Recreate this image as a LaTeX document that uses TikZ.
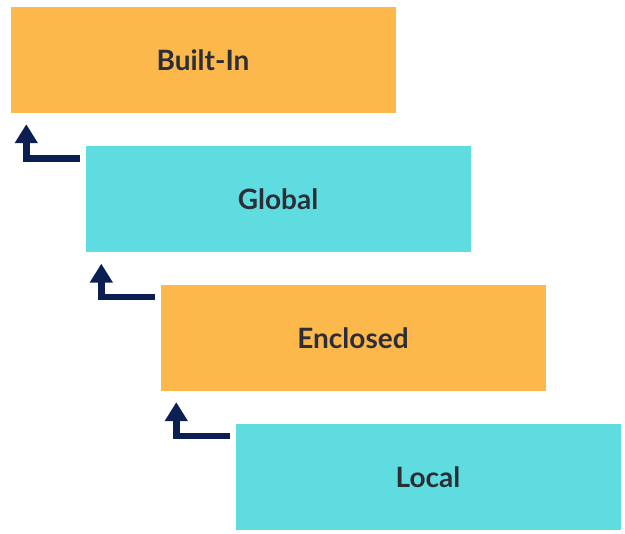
\documentclass[tikz,border=0pt]{standalone}
\usepackage{fontspec}
\setmainfont{Lato}
\usetikzlibrary{arrows.meta}
\definecolor{scopeorange}{HTML}{FDB84C}
\definecolor{scopecyan}{HTML}{5FDCE0}
\definecolor{scopenavy}{HTML}{0B1F52}
\definecolor{scopetext}{HTML}{2B2E36}
\tikzset{
  scopebox/.style={minimum width=385pt, minimum height=106pt, inner sep=0pt,
    font=\fontsize{28}{32}\selectfont\bfseries, text=scopetext},
  lookup/.style={draw=scopenavy, line width=6.5pt, -{Triangle[width=22pt,length=19pt]}}
}
\begin{document}
\begin{tikzpicture}[x=1pt,y=-1pt]
\useasboundingbox (0,0) rectangle (625,534);
\node[scopebox, fill=scopeorange] (built) at (203,60) {Built-In};
\node[scopebox, fill=scopecyan] (glob) at (278,199.5) {Global};
\node[scopebox, fill=scopeorange] (encl) at (353,338) {Enclosed};
\node[scopebox, fill=scopecyan] (loc) at (428,477) {Local};
\draw[lookup] ([xshift=-5pt,yshift=-12pt]glob.north west) -| ([xshift=16pt,yshift=-11pt]built.south west);
\draw[lookup] ([xshift=-5pt,yshift=-12pt]encl.north west) -| ([xshift=16pt,yshift=-11pt]glob.south west);
\draw[lookup] ([xshift=-5pt,yshift=-12pt]loc.north west) -| ([xshift=16pt,yshift=-11pt]encl.south west);
\end{tikzpicture}
\end{document}
